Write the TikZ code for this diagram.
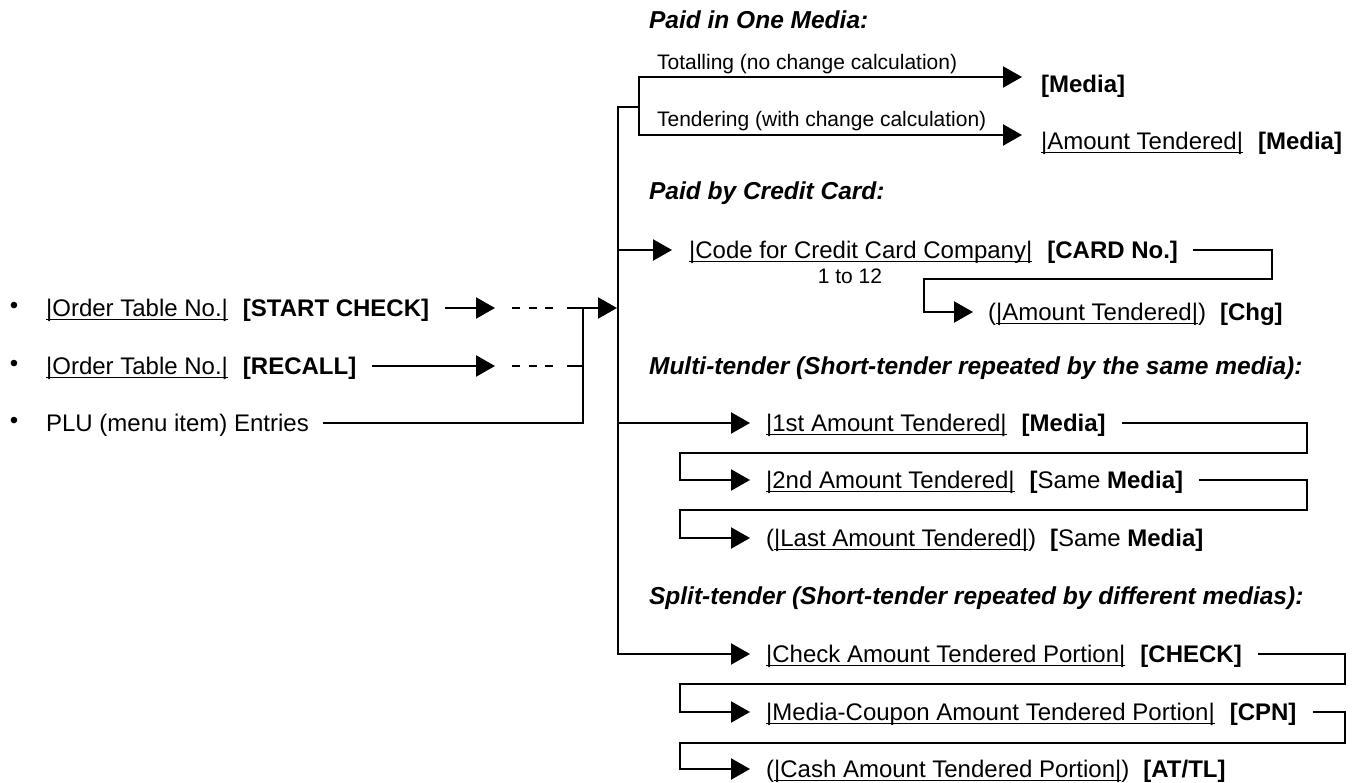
\documentclass[tikz,border=0pt]{standalone}
\usepackage{fontspec}
\setmainfont{Liberation Sans}
\usetikzlibrary{arrows.meta,calc}
\newcommand\myul[1]{\setbox0\hbox{#1}\rlap{\rule[-3.5pt]{\wd0}{1.4pt}}\box0}
\begin{document}
\begin{tikzpicture}[x=1pt,y=-1pt,line width=2.2pt,line cap=rect,
  every node/.style={font=\fontsize{24pt}{28pt}\selectfont},
  txt/.style={anchor=base west,inner sep=0pt,yshift=-8.6pt},
  small/.style={anchor=base west,inner sep=0pt,yshift=-7.5pt,font=\fontsize{21pt}{25pt}\selectfont},
  head/.style={anchor=base west,inner sep=0pt,yshift=-8.8pt,font=\fontsize{24.5pt}{29pt}\selectfont\bfseries\itshape},
  arr/.style={-{Triangle[length=19pt,width=21pt]}},
  dsh/.style={line cap=butt,dash pattern=on 8pt off 8.5pt}]
\useasboundingbox (0,0) rectangle (1361,783);

% ---------------- left entries
\node[inner sep=0pt] (b1) at (14,308) {•};
\node[inner sep=0pt] (b2) at (14,366) {•};
\node[inner sep=0pt] (b3) at (14,423) {•};
\node[txt] (o1) at (45,308) {\myul{|Order Table No.|}\hspace{15pt}\textbf{[START CHECK]}};
\node[txt] (o2) at (45,366) {\myul{|Order Table No.|}\hspace{15pt}\textbf{[RECALL]}};
\node[txt] (o3) at (45,423) {PLU (menu item) Entries};

\coordinate (a1) at (495,308);
\coordinate (a2) at (495,366);
\coordinate (d1s) at (512,308); \coordinate (d1e) at (553,308);
\coordinate (d2s) at (512,366); \coordinate (d2e) at (553,366);
\coordinate (t1) at (568,308); \coordinate (t2) at (568,366);
\coordinate (j1) at (583,308); \coordinate (j2) at (583,366); \coordinate (j3) at (583,423);
\coordinate (bvin) at (617,308);

\draw[arr] ([xshift=16pt,yshift=8.6pt]o1.base east) -- (a1);
\draw[arr] ([xshift=16pt,yshift=8.6pt]o2.base east) -- (a2);
\draw[dsh] (d1s) -- (d1e);
\draw[dsh] (d2s) -- (d2e);
\draw[arr] (t1) -- (bvin);
\draw (t2) -- (j2);
\draw ([xshift=14pt,yshift=8.6pt]o3.base east) -- (j3) -- (j1);

% ---------------- main vertical
\coordinate (top) at (618,107);
\coordinate (bot) at (618,654);
\coordinate (sj) at (639,107);
\coordinate (sv1) at (639,77);
\coordinate (sv2) at (639,135);
\coordinate (pt1) at (1022,77);
\coordinate (pt2) at (1022,135);

% Paid in one media
\node[head] (h1) at (648,20) {Paid in One Media:};
\node[small] (lt1) at (656,62) {Totalling (no change calculation)};
\node[small] (lt2) at (656,119) {Tendering (with change calculation)};
\draw (top) -- (sj);
\draw[arr] (sv2) -- (sv1) -- (pt1);
\draw[arr] (sv2) -- (pt2);
\node[txt] (m1) at (1040,84) {\textbf{[Media]}};
\node[txt] (m2) at (1040,141) {\myul{|Amount Tendered|}\hspace{15pt}\textbf{[Media]}};

% Paid by credit card
\node[head] (h2) at (648,191) {Paid by Credit Card:};
\coordinate (cj) at (618,250);
\coordinate (cca) at (672,250);
\draw[arr] (cj) -- (cca);
\node[txt] (cc) at (688,250) {\myul{|Code for Credit Card Company|}\hspace{15pt}\textbf{[CARD No.]}};
\node[small,anchor=base] (n12) at (850,276) {1 to 12};
\coordinate (cr1) at (1272,250);
\coordinate (cr2) at (1272,279);
\coordinate (cl1) at (924,279);
\coordinate (cl2) at (924,312);
\coordinate (cha) at (973,312);
\draw[arr] ([xshift=15pt,yshift=8.6pt]cc.base east) -- (cr1) -- (cr2) -- (cl1) -- (cl2) -- (cha);
\node[txt] (chg) at (987,312) {(\myul{|Amount Tendered|})\hspace{14pt}\textbf{[Chg]}};

% Multi-tender
\node[head] (h3) at (648,366) {Multi-tender (Short-tender repeated by the same media):};
\coordinate (mj) at (618,423);
\coordinate (ma1) at (750,423);
\draw[arr] (mj) -- (ma1);
\node[txt] (mt1) at (765,423) {\myul{|1st Amount Tendered|}\hspace{15pt}\textbf{[Media]}};
\coordinate (mr1) at (1307,423); \coordinate (mr1b) at (1307,453);
\coordinate (ml1) at (680,453); \coordinate (ml1b) at (680,480);
\coordinate (ma2) at (750,480);
\draw[arr] ([xshift=16pt,yshift=8.6pt]mt1.base east) -- (mr1) -- (mr1b) -- (ml1) -- (ml1b) -- (ma2);
\node[txt] (mt2) at (765,480) {\myul{|2nd Amount Tendered|}\hspace{15pt}\textbf{[}Same \textbf{Media]}};
\coordinate (mr2) at (1307,480); \coordinate (mr2b) at (1307,510);
\coordinate (ml2) at (680,510); \coordinate (ml2b) at (680,538);
\coordinate (ma3) at (750,538);
\draw[arr] ([xshift=16pt,yshift=8.6pt]mt2.base east) -- (mr2) -- (mr2b) -- (ml2) -- (ml2b) -- (ma3);
\node[txt] (mt3) at (765,538) {(\myul{|Last Amount Tendered|})\hspace{14pt}\textbf{[}Same \textbf{Media]}};

% Split-tender
\node[head] (h4) at (648,596) {Split-tender (Short-tender repeated by different medias):};
\coordinate (sa1) at (750,654);
\draw[arr] (top) -- (bot) -- (sa1);
\node[txt] (st1) at (765,654) {\myul{|Check Amount Tendered Portion|}\hspace{15pt}\textbf{[CHECK]}};
\coordinate (sr1) at (1345,654); \coordinate (sr1b) at (1345,684);
\coordinate (sl1) at (680,684); \coordinate (sl1b) at (680,712);
\coordinate (sa2) at (750,712);
\draw[arr] ([xshift=16pt,yshift=8.6pt]st1.base east) -- (sr1) -- (sr1b) -- (sl1) -- (sl1b) -- (sa2);
\node[txt] (st2) at (765,712) {\myul{|Media-Coupon Amount Tendered Portion|}\hspace{15pt}\textbf{[CPN]}};
\coordinate (sr2) at (1345,712); \coordinate (sr2b) at (1345,743);
\coordinate (sl2) at (680,743); \coordinate (sl2b) at (680,769);
\coordinate (sa3) at (750,769);
\draw[arr] ([xshift=16pt,yshift=8.6pt]st2.base east) -- (sr2) -- (sr2b) -- (sl2) -- (sl2b) -- (sa3);
\node[txt] (st3) at (765,769) {(\myul{|Cash Amount Tendered Portion|})\hspace{14pt}\textbf{[AT/TL]}};
\end{tikzpicture}
\end{document}
